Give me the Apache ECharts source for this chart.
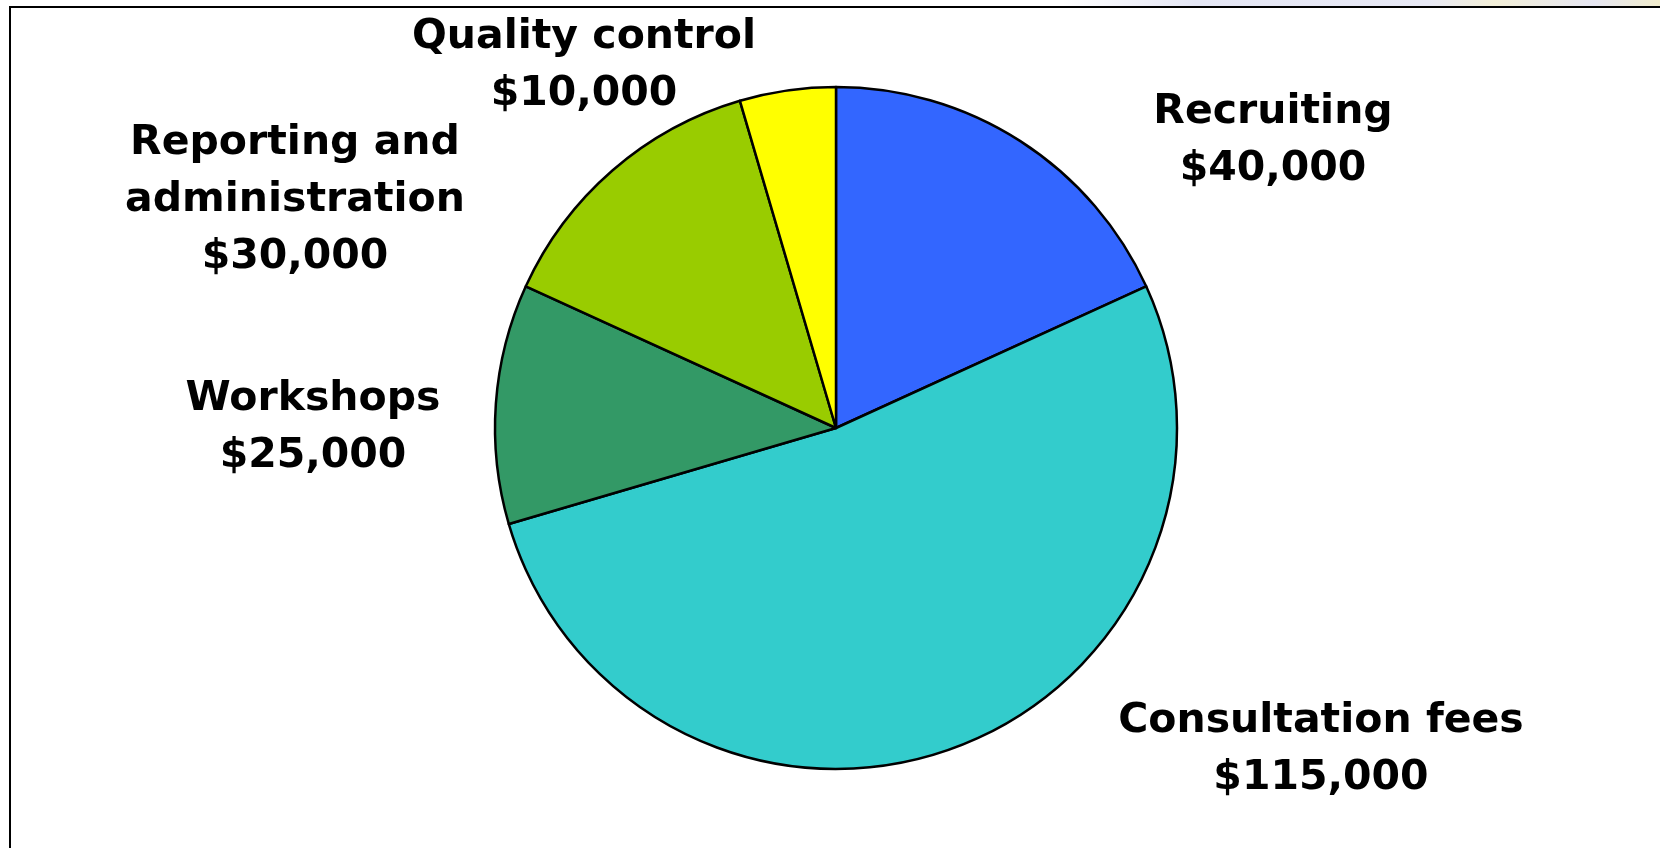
<!DOCTYPE html>
<html>
<head>
<meta charset="utf-8">
<script src="https://cdn.jsdelivr.net/npm/echarts@6/dist/echarts.min.js"></script>
<style>
  html, body { margin: 0; padding: 0; background: #fff; overflow: hidden; }
  .strip {
    position: absolute; left: 0; top: 0; width: 1660px; height: 7px;
    background: linear-gradient(90deg, #fff 0%, #fff 64%, #e4e6f4 72%, #e8e9f5 86%, #f3efd8 90%, #e6e6f2 96%, #f1eccc 100%);
  }
  .frame {
    position: absolute; left: 9px; top: 6px; width: 1700px; height: 900px;
    border: 2px solid #000; box-sizing: border-box;
  }
  #chart { position: absolute; left: 0; top: 0; width: 1660px; height: 848px; }
</style>
</head>
<body>
<div class="strip"></div>
<div class="frame"></div>
<div id="chart"></div>
<script>
const names = ['Recruiting', 'Consultation fees', 'Workshops', 'Reporting and\nadministration', 'Quality control']
const values = [40000, 115000, 25000, 30000, 10000]
const colors = ['#3366FF', '#33CCCC', '#339966', '#99CC00', '#FFFF00']

// where each label block sits (centre), in pixels
const labelPos = [
  [1273, 141],
  [1321, 750],
  [313, 428],
  [295, 200],
  [584, 66]
]

let data = []
for (let i = 0; i < names.length; i++) {
  data.push({ name: names[i], value: values[i], itemStyle: { color: colors[i] } })
}

var myChart = echarts.init(document.getElementById('chart'))

myChart.setOption({
  animation: false,
  series: [
    {
      type: 'pie',
      center: [836, 428],
      radius: 341,
      startAngle: 90,
      clockwise: true,
      data: data,
      itemStyle: {
        borderColor: '#000',
        borderWidth: 2.5
      },
      label: {
        show: true,
        position: 'outside',
        formatter: function (p) {
          return p.name + '\n$' + p.value.toLocaleString('en-US')
        },
        color: '#000',
        fontFamily: 'DejaVu Sans',
        fontWeight: 'bold',
        fontSize: 41,
        lineHeight: 57,
        align: 'center'
      },
      labelLine: { show: false },
      labelLayout: function (params) {
        let p = labelPos[params.dataIndex]
        return { x: p[0], y: p[1], align: 'center', verticalAlign: 'middle' }
      },
      emphasis: { disabled: true }
    }
  ]
})
</script>
</body>
</html>
